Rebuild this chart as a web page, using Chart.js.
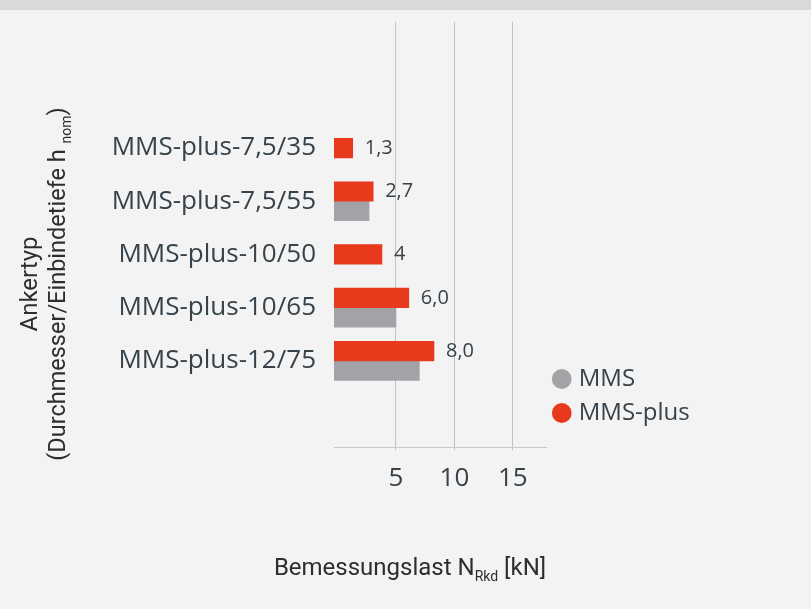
<!DOCTYPE html>
<html>
<head>
<meta charset="utf-8">
<script src="https://cdn.jsdelivr.net/npm/chart.js@4.4.1/dist/chart.umd.min.js"></script>
<style>
  html, body { margin: 0; padding: 0; background: #f3f3f3; }
  .band { height: 10px; background: #d9d9d9; }
  .wrap { position: relative; width: 811px; height: 599px; }
</style>
</head>
<body>
<div class="band"></div>
<div class="wrap"><canvas id="chart"></canvas></div>
<script>
// Ankertypen (Kategorien)
const categories = ['MMS-plus-7,5/35', 'MMS-plus-7,5/55', 'MMS-plus-10/50', 'MMS-plus-10/65', 'MMS-plus-12/75'];
// Balkenlängen [kN]
const mmsPlusValues = [1.3, 3.05, 3.8, 6.1, 8.25];
const mmsValues = [null, 2.7, null, 5.0, 7.0];
// Beschriftungen an den roten Balken
const valueLabels = ['1,3', '2,7', '4', '6,0', '8,0'];
const xTicks = [5, 10, 15];

const textColor = '#37424a';
const tickFont = { family: 'Open Sans', size: 26 };

// Werte neben den MMS-plus Balken
const barLabels = {
  id: 'barLabels',
  afterDatasetsDraw(chart) {
    const ctx = chart.ctx;
    const meta = chart.getDatasetMeta(0);
    ctx.save();
    ctx.font = '20px "Open Sans"';
    ctx.fillStyle = textColor;
    ctx.textAlign = 'left';
    ctx.textBaseline = 'middle';
    meta.data.forEach((bar, i) => {
      ctx.fillText(valueLabels[i], bar.x + 12, bar.y);
    });
    ctx.restore();
  }
};

// Achsentitel mit Tiefstellung
function drawRuns(ctx, runs, x, y) {
  let total = 0;
  runs.forEach(r => {
    ctx.font = r.size + 'px Roboto';
    total += ctx.measureText(r.text).width;
  });
  let cx = x - total / 2;
  runs.forEach(r => {
    ctx.font = r.size + 'px Roboto';
    ctx.fillText(r.text, cx, y + (r.dy || 0));
    cx += ctx.measureText(r.text).width;
  });
}

const axisTitles = {
  id: 'axisTitles',
  afterDraw(chart) {
    const ctx = chart.ctx;
    ctx.save();
    ctx.fillStyle = '#2e2e2e';
    ctx.textBaseline = 'alphabetic';
    ctx.textAlign = 'left';
    drawRuns(ctx, [
      { text: 'Bemessungslast N', size: 24 },
      { text: 'Rkd', size: 14, dy: 6 },
      { text: ' [kN]', size: 24 }
    ], 410, 565);

    ctx.translate(29, 274);
    ctx.rotate(-Math.PI / 2);
    drawRuns(ctx, [{ text: 'Ankertyp', size: 24 }], 0, 8);
    drawRuns(ctx, [
      { text: '(Durchmesser/Einbindetiefe h ', size: 23.5 },
      { text: 'nom', size: 14, dy: 6 },
      { text: ')', size: 23.5 }
    ], 0, 36);
    ctx.restore();
  }
};

// Legende etwas nach oben setzen
const legendNudge = {
  id: 'legendNudge',
  afterLayout(chart) {
    chart.legend.top -= 12;
    chart.legend.bottom -= 12;
  }
};

new Chart(document.getElementById('chart'), {
  type: 'bar',
  data: {
    datasets: [{
      label: 'MMS-plus',
      data: mmsPlusValues.map((v, i) => ({ x: v, y: i })),
      backgroundColor: '#e8391d',
      borderWidth: 0,
      base: -0.3
    }, {
      label: 'MMS',
      data: mmsValues.map((v, i) => ({ x: v, y: i })),
      backgroundColor: '#a1a3a7',
      borderWidth: 0,
      base: -0.3
    }]
  },
  options: {
    indexAxis: 'y',
    responsive: true,
    maintainAspectRatio: false,
    animation: false,
    skipNull: true,
    barThickness: 19.5,
    layout: {
      padding: { top: 12, left: 108, right: 118, bottom: 112 }
    },
    plugins: {
      legend: {
        position: 'right',
        align: 'end',
        fullSize: false,
        labels: {
          usePointStyle: true,
          pointStyle: 'circle',
          boxWidth: 10,
          boxHeight: 14,
          padding: 10,
          color: textColor,
          font: { family: 'Open Sans', size: 24 },
          sort: (a, b) => b.datasetIndex - a.datasetIndex
        }
      },
      tooltip: { enabled: false }
    },
    scales: {
      x: {
        type: 'linear',
        min: -0.3,
        max: 17.9,
        afterBuildTicks: scale => { scale.ticks = xTicks.map(v => ({ value: v })); },
        afterFit: scale => { scale.height = 50; },
        grid: { color: '#c2c2c2', drawTicks: true, tickLength: 3 },
        border: { color: '#c8c8c8' },
        ticks: { color: textColor, font: tickFont, padding: 13, autoSkip: false }
      },
      y: {
        type: 'linear',
        reverse: true,
        offset: false,
        bounds: 'data',
        min: -2.37,
        max: 5.62,
        afterBuildTicks: scale => { scale.ticks = categories.map((c, i) => ({ value: i })); },
        afterFit: scale => {
          scale.width = 226;
          scale.paddingTop = 0;
          scale.paddingBottom = 0;
        },
        grid: { display: false, drawTicks: false, offset: false },
        border: { display: false },
        ticks: {
          color: textColor,
          font: tickFont,
          padding: 18,
          autoSkip: false,
          callback: value => categories[value]
        }
      }
    }
  },
  plugins: [barLabels, axisTitles, legendNudge]
});
</script>
</body>
</html>
